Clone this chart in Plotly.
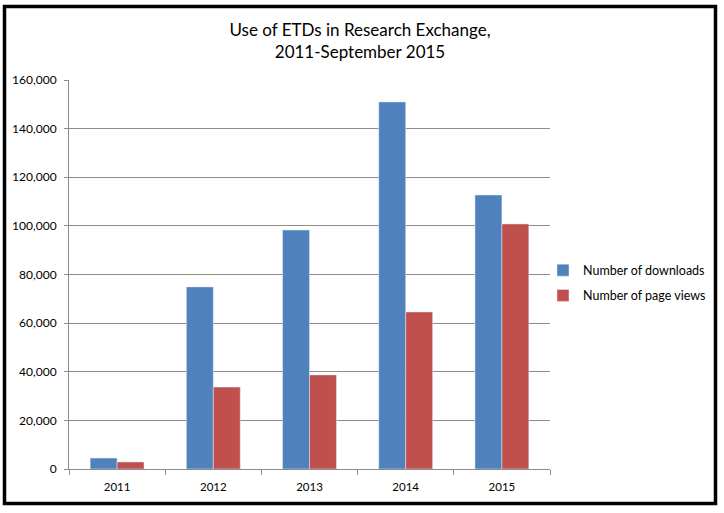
import plotly.graph_objects as go

years = ["2011", "2012", "2013", "2014", "2015"]
downloads = [4500, 74900, 98300, 151000, 112700]
page_views = [2900, 33700, 38700, 64600, 100800]

W, H = 724, 513
L, R, T, B = 69, 174, 80, 44
pw, ph = W - L - R, H - T - B

def px_x(x):
    return (x - L) / pw

def px_y(y):
    return (H - B - y) / ph

fig = go.Figure()
fig.add_trace(go.Bar(x=years, y=downloads, name="Number of downloads",
                     marker_color="#4F81BD", legendgroup="a"))
fig.add_trace(go.Bar(x=years, y=page_views, name="Number of page views",
                     marker_color="#C0504D", legendgroup="b"))

font = "Lato, Open Sans, sans-serif"
fig.update_layout(
    width=W, height=H,
    margin=dict(l=L, r=R, t=T, b=B, autoexpand=False),
    paper_bgcolor="white", plot_bgcolor="white",
    barmode="group", bargap=0.44, bargroupgap=0,
    font=dict(family=font, size=11.5, color="#000"),
    title=dict(text="Use of ETDs in Research Exchange,<br>2011-September 2015",
               x=360 / W, xref="container", xanchor="center", y=1 - 36 / H, yanchor="middle",
               font=dict(size=17, family=font, color="#000")),
    legend=dict(x=px_x(543), xanchor="left", y=px_y(283), yanchor="middle",
                font=dict(size=12.5, family=font), traceorder="grouped",
                tracegroupgap=6, itemwidth=30, bgcolor="rgba(0,0,0,0)"),
    showlegend=True,
)
fig.update_xaxes(type="category", showline=True, linecolor="#8c8c8c", linewidth=1,
                 ticks="outside", tickson="boundaries", ticklen=5, tickcolor="#8c8c8c",
                 showgrid=False, tickfont=dict(size=11.5), ticklabelstandoff=7)
fig.update_yaxes(range=[0, 160000], dtick=20000, tickformat=",", showline=True,
                 linecolor="#8c8c8c", linewidth=1, ticks="outside", ticklen=4,
                 tickcolor="#8c8c8c", showgrid=True, gridcolor="#8c8c8c", gridwidth=1,
                 zeroline=False, tickfont=dict(size=12), ticklabelstandoff=5)

fig.add_shape(type="rect", xref="paper", yref="paper",
              x0=px_x(4.5), x1=px_x(715.5), y0=px_y(503.5), y1=px_y(6.5),
              line=dict(color="black", width=3.5), fillcolor="rgba(0,0,0,0)", layer="above")

fig.write_html("out.html", config={"displayModeBar": False},
               post_script="document.body.style.margin='0';document.body.style.padding='0';")
